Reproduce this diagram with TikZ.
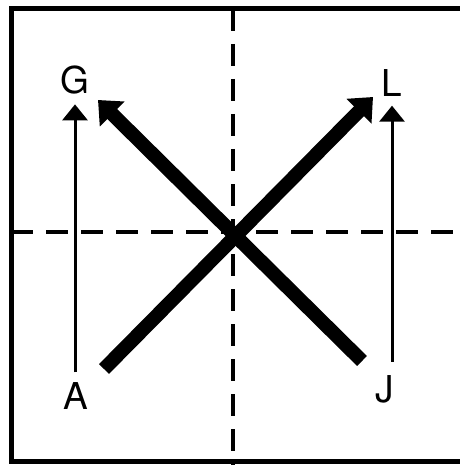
\documentclass[tikz,border=0pt]{standalone}
\usepackage{fontspec}
\setmainfont{TeX Gyre Heros}
\usetikzlibrary{arrows.meta}
\begin{document}
\begin{tikzpicture}[x=1pt,y=-1pt,
  frameline/.style={line width=5pt, line join=miter},
  dashline/.style={line width=4.5pt, dash pattern=on 22pt off 13pt},
  thinarrow/.style={line width=3pt, -{Triangle[length=16pt,width=25pt]}},
  thickarrow/.style={line width=14pt, -{Triangle[length=20pt,width=34pt]}},
  lbl/.style={inner sep=0pt, font=\fontsize{37}{37}\selectfont}]
\useasboundingbox (0,0) rectangle (459,465);
% frame (right side runs off the picture)
\draw[frameline] (470,9) -- (11,9) -- (11,461) -- (470,461);
% dashed axes
\coordinate (vt) at (233,9);
\coordinate (vb) at (233,465);
\coordinate (hl) at (11,232);
\coordinate (hr) at (470,232);
\draw[dashline] (vt) -- (vb);
\draw[dashline] (hl) -- (hr);
% labels
\node[lbl] (G) at (75,80) {G};
\node[lbl] (L) at (392,83) {L};
\node[lbl] (A) at (75.5,396) {A};
\node[lbl] (J) at (385,389) {J};
% thin vertical arrows
\draw[thinarrow, shorten <=10pt, shorten >=10pt] (A.north -| G.south) -- (G.south);
\draw[thinarrow, shorten <=13pt, shorten >=9pt] (J.north -| L.south) -- (L.south);
% thick crossing arrows
\coordinate (ll) at (104,369);
\coordinate (ur) at (373,97);
\coordinate (lr) at (362,361);
\coordinate (ul) at (98,100);
\draw[thickarrow] (ll) -- (ur);
\draw[thickarrow] (lr) -- (ul);
\end{tikzpicture}
\end{document}
